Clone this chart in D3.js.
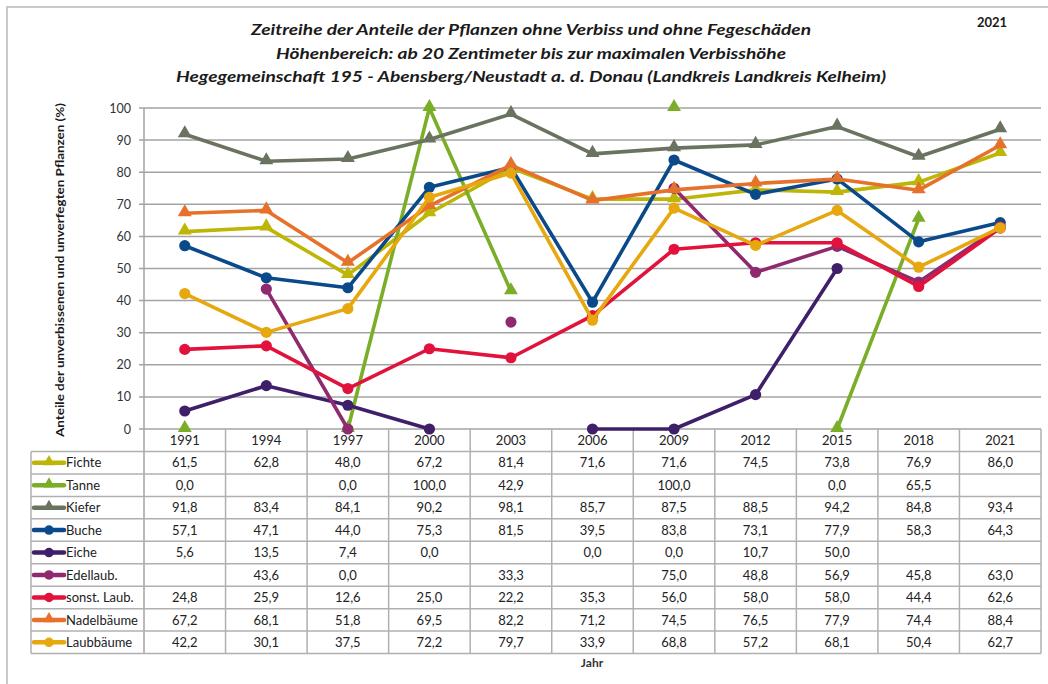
<!DOCTYPE html>
<html>
<head>
<meta charset="utf-8">
<script src="https://cdn.jsdelivr.net/npm/d3@7"></script>
<style>
  body { margin: 0; background: #fff; }
  text { font-family: Lato, "Open Sans", sans-serif; }
</style>
</head>
<body>
<div id="chart"></div>
<script>
// Kategorien und Werte
const years = ["1991", "1994", "1997", "2000", "2003", "2006", "2009", "2012", "2015", "2018", "2021"];
const fichte = [61.5, 62.8, 48.0, 67.2, 81.4, 71.6, 71.6, 74.5, 73.8, 76.9, 86.0];
const tanne = [0.0, null, 0.0, 100.0, 42.9, null, 100.0, null, 0.0, 65.5, null];
const kiefer = [91.8, 83.4, 84.1, 90.2, 98.1, 85.7, 87.5, 88.5, 94.2, 84.8, 93.4];
const buche = [57.1, 47.1, 44.0, 75.3, 81.5, 39.5, 83.8, 73.1, 77.9, 58.3, 64.3];
const eiche = [5.6, 13.5, 7.4, 0.0, null, 0.0, 0.0, 10.7, 50.0, null, null];
const edellaub = [null, 43.6, 0.0, null, 33.3, null, 75.0, 48.8, 56.9, 45.8, 63.0];
const sonstLaub = [24.8, 25.9, 12.6, 25.0, 22.2, 35.3, 56.0, 58.0, 58.0, 44.4, 62.6];
const nadelbaeume = [67.2, 68.1, 51.8, 69.5, 82.2, 71.2, 74.5, 76.5, 77.9, 74.4, 88.4];
const laubbaeume = [42.2, 30.1, 37.5, 72.2, 79.7, 33.9, 68.8, 57.2, 68.1, 50.4, 62.7];
const yTicks = [0, 10, 20, 30, 40, 50, 60, 70, 80, 90, 100];

const seriesNames = ["Fichte", "Tanne", "Kiefer", "Buche", "Eiche", "Edellaub.", "sonst. Laub.", "Nadelbäume", "Laubbäume"];
const seriesValues = [fichte, tanne, kiefer, buche, eiche, edellaub, sonstLaub, nadelbaeume, laubbaeume];
const seriesColors = ["#bdb606", "#7aae29", "#6a7360", "#0b4a8a", "#3f1f6a", "#902a6f", "#e1123b", "#e6712b", "#e6a70f"];
const seriesShapes = ["tri", "tri", "tri", "dot", "dot", "dot", "dot", "tri", "dot"];

const W = 1048, H = 684;
const plotLeft = 144, plotRight = 1041, plotTop = 108, plotBottom = 429;
const rowH = 22.45, headH = 22.5, legLeft = 31;

let svg = d3.select("#chart").append("svg")
  .attr("width", W)
  .attr("height", H);

// Rahmen
svg.append("rect")
  .attr("x", 7).attr("y", 7)
  .attr("width", W + 20).attr("height", H + 20)
  .attr("fill", "none")
  .attr("stroke", "#c9c9c9")
  .attr("stroke-width", 2);

// Titel
let titles = [
  "Zeitreihe der Anteile der Pflanzen ohne Verbiss und ohne Fegeschäden",
  "Höhenbereich: ab 20 Zentimeter bis zur maximalen Verbisshöhe",
  "Hegegemeinschaft 195 - Abensberg/Neustadt a. d. Donau (Landkreis Landkreis Kelheim)"
];
let titleWidths = [560, 510, 710];
titles.forEach(function (t, i) {
  svg.append("text")
    .attr("x", 531)
    .attr("y", 35 + i * 23.5)
    .attr("text-anchor", "middle")
    .attr("font-size", "15px")
    .attr("font-weight", "bold")
    .attr("font-style", "italic")
    .attr("fill", "#1a1a1a")
    .attr("textLength", titleWidths[i])
    .attr("lengthAdjust", "spacingAndGlyphs")
    .text(t);
});

svg.append("text")
  .attr("x", 992).attr("y", 27)
  .attr("text-anchor", "middle")
  .attr("font-size", "13px")
  .attr("font-weight", "bold")
  .attr("fill", "#1a1a1a")
  .text("2021");

let x = d3.scaleBand()
  .domain(years)
  .range([plotLeft, plotRight]);

let y = d3.scaleLinear()
  .domain([0, 100])
  .range([plotBottom, plotTop]);

function cx(i) {
  return x(years[i]) + x.bandwidth() / 2;
}

// Gitterlinien
svg.append("g")
  .selectAll("line")
  .data(yTicks)
  .enter().append("line")
  .attr("x1", plotLeft - 5).attr("x2", plotRight)
  .attr("y1", d => y(d)).attr("y2", d => y(d))
  .attr("stroke", "#a3a3a3")
  .attr("stroke-width", 1.5);

svg.append("g")
  .selectAll("text")
  .data(yTicks)
  .enter().append("text")
  .attr("x", 131)
  .attr("y", d => y(d) + 4.5)
  .attr("text-anchor", "end")
  .attr("font-size", "12.5px")
  .attr("fill", "#333")
  .text(d => d);

svg.append("text")
  .attr("transform", "translate(64,270) rotate(-90)")
  .attr("text-anchor", "middle")
  .attr("font-size", "11.5px")
  .attr("font-weight", "bold")
  .attr("fill", "#1a1a1a")
  .attr("textLength", 334)
  .attr("lengthAdjust", "spacingAndGlyphs")
  .text("Anteile der unverbissenen und unverfegten Pflanzen (%)");

// Datentabelle
let tableTop = plotBottom + headH;
let tableBottom = tableTop + rowH * seriesNames.length;
let tbl = svg.append("g");
let gridColor = "#b0b0b0";

tbl.append("line")
  .attr("x1", plotLeft).attr("x2", plotLeft)
  .attr("y1", plotTop).attr("y2", tableBottom)
  .attr("stroke", "#a3a3a3").attr("stroke-width", 1.5);

tbl.selectAll(".vcol")
  .data(years)
  .enter().append("line")
  .attr("x1", d => x(d) + x.bandwidth()).attr("x2", d => x(d) + x.bandwidth())
  .attr("y1", plotBottom).attr("y2", tableBottom)
  .attr("stroke", gridColor).attr("stroke-width", 1.5);

tbl.append("line")
  .attr("x1", legLeft).attr("x2", legLeft)
  .attr("y1", tableTop).attr("y2", tableBottom)
  .attr("stroke", gridColor).attr("stroke-width", 1.5);

tbl.selectAll(".hrow")
  .data(d3.range(seriesNames.length + 1))
  .enter().append("line")
  .attr("x1", legLeft).attr("x2", plotRight)
  .attr("y1", d => tableTop + d * rowH).attr("y2", d => tableTop + d * rowH)
  .attr("stroke", gridColor).attr("stroke-width", 1.5);

tbl.selectAll(".yearlab")
  .data(years)
  .enter().append("text")
  .attr("x", d => x(d) + x.bandwidth() / 2)
  .attr("y", plotBottom + 16)
  .attr("text-anchor", "middle")
  .attr("font-size", "13px")
  .attr("fill", "#222")
  .text(d => d);

function fmt(v) {
  return v.toFixed(1).replace(".", ",");
}

function drawMarker(g, shape, px, py, color, scale) {
  if (shape === "tri") {
    g.append("path")
      .attr("d", d3.symbol().type(d3.symbolTriangle).size(84 * scale * scale)())
      .attr("transform", "translate(" + px + "," + (py - 1) + ")")
      .attr("fill", color);
  } else {
    g.append("circle")
      .attr("cx", px).attr("cy", py)
      .attr("r", 5.6 * scale)
      .attr("fill", color);
  }
}

seriesNames.forEach(function (name, s) {
  let ry = tableTop + s * rowH + rowH / 2;
  seriesValues[s].forEach(function (v, i) {
    if (v === null) return;
    tbl.append("text")
      .attr("x", cx(i))
      .attr("y", ry + 4.7)
      .attr("text-anchor", "middle")
      .attr("font-size", "13px")
      .attr("fill", "#222")
      .text(fmt(v));
  });
  // Legende
  tbl.append("line")
    .attr("x1", 34).attr("x2", 64)
    .attr("y1", ry).attr("y2", ry)
    .attr("stroke", seriesColors[s])
    .attr("stroke-width", 4.5)
    .attr("stroke-linecap", "round");
  drawMarker(tbl, seriesShapes[s], 49, ry, seriesColors[s], 0.85);
  tbl.append("text")
    .attr("x", 66)
    .attr("y", ry + 4.7)
    .attr("font-size", "13px")
    .attr("fill", "#222")
    .text(name);
});

svg.append("text")
  .attr("x", 592).attr("y", 667)
  .attr("text-anchor", "middle")
  .attr("font-size", "12px")
  .attr("font-weight", "bold")
  .attr("fill", "#333")
  .text("Jahr");

// Linien
let line = d3.line()
  .defined(d => d.v !== null)
  .x(d => cx(d.i))
  .y(d => y(d.v));

seriesValues.forEach(function (vals, s) {
  let g = svg.append("g");
  let pts = vals.map(function (v, i) { return {i: i, v: v}; });
  g.append("path")
    .datum(pts)
    .attr("d", line)
    .attr("fill", "none")
    .attr("stroke", seriesColors[s])
    .attr("stroke-width", 3.6)
    .attr("stroke-linejoin", "round");
  pts.forEach(function (p) {
    if (p.v === null) return;
    drawMarker(g, seriesShapes[s], cx(p.i), y(p.v), seriesColors[s], 1);
  });
});
</script>
</body>
</html>
